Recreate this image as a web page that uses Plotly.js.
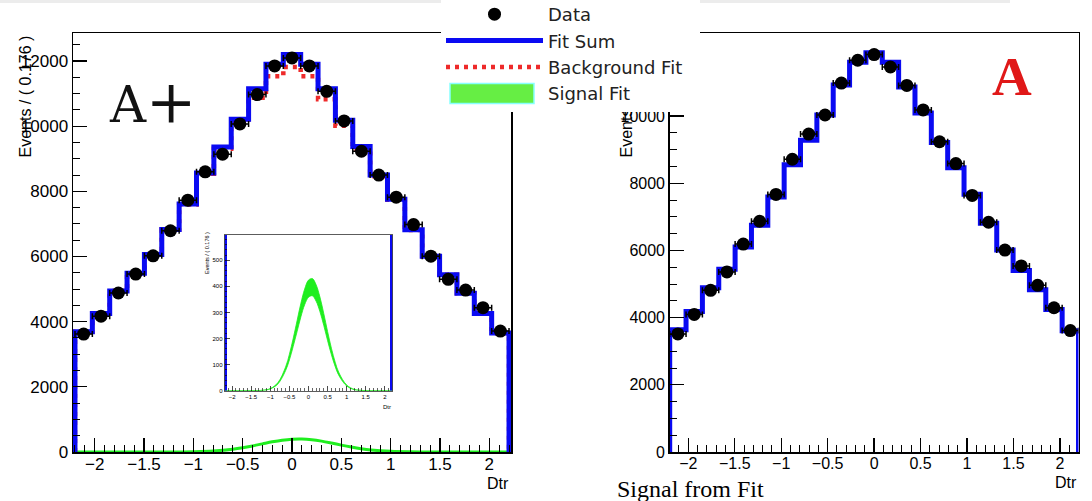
<!DOCTYPE html>
<html><head><meta charset="utf-8">
<script src="https://cdn.plot.ly/plotly-3.0.1.min.js"></script>
<style>html,body{margin:0;padding:0;background:#fff}#chart{width:1092px;height:501px}</style>
</head><body><div id="chart"></div>
<script>
// ---- data ----
const binEdges = [-2.2, -2.024, -1.848, -1.672, -1.496, -1.32, -1.144, -0.968, -0.792, -0.616, -0.44, -0.264, -0.088,
  0.088, 0.264, 0.44, 0.616, 0.792, 0.968, 1.144, 1.32, 1.496, 1.672, 1.848, 2.024, 2.2];
const binCenters = [-2.112, -1.936, -1.76, -1.584, -1.408, -1.232, -1.056, -0.88, -0.704, -0.528, -0.352, -0.176, 0,
  0.176, 0.352, 0.528, 0.704, 0.88, 1.056, 1.232, 1.408, 1.584, 1.76, 1.936, 2.112];

const dataLeft   = [3620, 4170, 4880, 5460, 6020, 6790, 7730, 8600, 9140, 10070, 10970, 11850, 12095,
  11850, 11070, 10160, 9230, 8500, 7820, 6980, 6010, 5300, 4970, 4430, 3710];
const fitSumLeft = [3690, 4250, 4940, 5490, 6060, 6830, 7610, 8560, 9360, 10210, 11150, 11900, 12200,
  11900, 11150, 10180, 9380, 8500, 7760, 6820, 6010, 5440, 4870, 4250, 3650];
const bkgLeft    = [3690, 4250, 4940, 5490, 6060, 6830, 7600, 8540, 9310, 10100, 10870, 11530, 11820,
  11530, 10830, 10010, 9290, 8460, 7745, 6815, 6005, 5440, 4870, 4250, 3650];

const dataRight   = [3515, 4093, 4811, 5359, 6189, 6868, 7665, 8713, 9461, 10030, 10979, 11659, 11828,
  11458, 10910, 10180, 9234, 8584, 7635, 6838, 6009, 5539, 4961, 4293, 3614];
const fitSumRight = [3640, 4180, 4890, 5440, 6100, 6750, 7590, 8550, 9280, 10030, 10920, 11600, 11880,
  11600, 10860, 10090, 9210, 8460, 7670, 6810, 6010, 5400, 4830, 4240, 3610];

const sigX     = [-2.2, -1.8, -1.6, -1.4, -1.2, -1.0, -0.8, -0.6, -0.5, -0.4, -0.3, -0.2, -0.1, 0, 0.1, 0.2,
  0.3, 0.4, 0.5, 0.6, 0.7, 0.8, 1.0, 1.2, 1.4, 1.6, 1.8, 2.2];
const sigUpper = [0, 0, 0.1, 0.3, 1.6, 8, 31, 91, 140, 201, 268, 335, 390, 424, 430, 406,
  359, 296, 227, 163, 109, 68, 22, 5, 1, 0.1, 0, 0];
const sigLower = [0, 0, 0.1, 0.3, 1.4, 7, 26, 77, 118, 170, 226, 283, 330, 358, 364, 343,
  303, 250, 192, 138, 92, 57, 18, 4, 1, 0.1, 0, 0];
const sigMain  = [0, 0, 0.1, 0.3, 1.5, 7.5, 29, 85, 130, 187, 250, 312, 363, 394, 400, 378,
  334, 275, 211, 152, 101, 63, 20, 5, 1, 0.1, 0, 0];

const halfBin = 0.088;

// ---- helpers to build step outlines from the bin arrays ----
function stepX() { return [binEdges[0]].concat(binEdges, [binEdges[binEdges.length - 1]]); }
function stepY(v) { return [0].concat(v, [v[v.length - 1], 0]); }

const BLUE = '#0a0af2', RED = '#ee2a2a', GREEN = '#1fee1f';
const SANS = 'Liberation Sans, Arial, Helvetica, sans-serif';
const LEGSANS = 'DejaVu Sans, Verdana, sans-serif';
const SERIF = 'Liberation Serif, Times New Roman, serif';
const DSERIF = 'DejaVu Serif, Georgia, serif';

const traces = [
  {x: sigX, y: sigMain, xaxis: 'x', yaxis: 'y', mode: 'lines', line: {color: GREEN, width: 3, shape: 'spline'},
   showlegend: false, hoverinfo: 'skip'},
  {x: stepX(), y: stepY(bkgLeft), xaxis: 'x', yaxis: 'y', mode: 'lines', name: 'Background Fit',
   line: {color: RED, width: 4.5, shape: 'hv', dash: '4px,5px'}, legendrank: 3},
  {x: stepX(), y: stepY(fitSumLeft), xaxis: 'x', yaxis: 'y', mode: 'lines', name: 'Fit Sum',
   line: {color: BLUE, width: 5, shape: 'hv'}, legendrank: 2},
  {x: binCenters, y: dataLeft, xaxis: 'x', yaxis: 'y', mode: 'markers', name: 'Data',
   marker: {color: '#000', size: 13},
   error_x: {type: 'constant', value: halfBin, color: '#000', thickness: 1.5, width: 3},
   error_y: {type: 'sqrt', color: '#000', thickness: 1.5, width: 4}, legendrank: 1},
  // inset
  {x: sigX, y: sigLower, xaxis: 'x2', yaxis: 'y2', mode: 'lines', line: {color: GREEN, width: 0.8, shape: 'spline'},
   showlegend: false, hoverinfo: 'skip'},
  {x: sigX, y: sigUpper, xaxis: 'x2', yaxis: 'y2', mode: 'lines', fill: 'tonexty', fillcolor: GREEN, name: 'Signal Fit',
   line: {color: GREEN, width: 0.8, shape: 'spline'}, legendrank: 4},
  {x: stepX(), y: stepY(fitSumLeft), xaxis: 'x2', yaxis: 'y2', mode: 'lines', line: {color: BLUE, width: 5, shape: 'hv'},
   showlegend: false, hoverinfo: 'skip'},
  // right panel
  {x: stepX(), y: stepY(fitSumRight), xaxis: 'x3', yaxis: 'y3', mode: 'lines', line: {color: BLUE, width: 5, shape: 'hv'},
   showlegend: false},
  {x: binCenters, y: dataRight, xaxis: 'x3', yaxis: 'y3', mode: 'markers', marker: {color: '#000', size: 13},
   error_x: {type: 'constant', value: halfBin, color: '#000', thickness: 1.5, width: 3},
   error_y: {type: 'sqrt', color: '#000', thickness: 1.5, width: 4}, showlegend: false}
];

function mainAxis(extra) {
  return Object.assign({
    showline: true, linecolor: '#000', linewidth: 1.5, mirror: true,
    ticks: 'inside', ticklen: 14, tickwidth: 1.3, tickcolor: '#000',
    showgrid: false, zeroline: false,
    tickfont: {family: SANS, size: 17, color: '#000'}
  }, extra);
}
function insetAxis(extra) {
  return Object.assign({
    showline: true, linecolor: '#333', linewidth: 0.8, mirror: true,
    ticks: 'inside', ticklen: 5, tickwidth: 0.7, tickcolor: '#000',
    showgrid: false, zeroline: false,
    tickfont: {family: SANS, size: 6, color: '#000'}
  }, extra);
}

const W = 1092, T = 33, B = 49, H = 501;
const px = v => v / W;
const py = v => (H - B - v) / (H - T - B);

const layout = {
  width: W, height: H,
  margin: {l: 0, r: 0, t: T, b: B, pad: 0},
  paper_bgcolor: '#fff', plot_bgcolor: '#fff',
  showlegend: true,
  legend: {x: px(441), y: py(0), xanchor: 'left', yanchor: 'top', bgcolor: '#fff', borderwidth: 0,
    font: {family: LEGSANS, size: 18, color: '#222'}, itemwidth: 97, tracegroupgap: 0, traceorder: 'normal'},
  xaxis: mainAxis({domain: [px(73), px(511)], range: [-2.22, 2.22], anchor: 'y', dtick: 0.5, tick0: 0,
    ticklabelstandoff: -4,
    minor: {dtick: 0.1, ticks: 'inside', ticklen: 7, tickwidth: 1, tickcolor: '#000'}}),
  yaxis: mainAxis({domain: [0, 1], range: [0, 12860], anchor: 'x', dtick: 2000, tick0: 0, tickformat: 'd',
    minor: {dtick: 500, ticks: 'inside', ticklen: 7, tickwidth: 1, tickcolor: '#000'}}),
  xaxis2: insetAxis({domain: [px(224.5), px(392.5)], range: [-2.2, 2.2], anchor: 'y2', dtick: 0.5, tick0: 0,
    minor: {dtick: 0.1, ticks: 'inside', ticklen: 2.5, tickwidth: 0.6, tickcolor: '#000'}}),
  yaxis2: insetAxis({domain: [py(390.7), py(235)], range: [0, 597], anchor: 'x2', dtick: 100, tick0: 0,
    minor: {dtick: 20, ticks: 'inside', ticklen: 2.5, tickwidth: 0.6, tickcolor: '#000'}}),
  xaxis3: mainAxis({domain: [px(669.7), px(1078.5)], range: [-2.2, 2.2], anchor: 'y3', dtick: 0.5, tick0: 0,
    ticklabelstandoff: -4,
    tickfont: {family: SANS, size: 16, color: '#000'},
    minor: {dtick: 0.1, ticks: 'inside', ticklen: 7, tickwidth: 1, tickcolor: '#000'}}),
  yaxis3: mainAxis({domain: [0, 1], range: [0, 12470], anchor: 'x3', dtick: 2000, tick0: 0, tickformat: 'd',
    tickfont: {family: SANS, size: 16, color: '#000'},
    minor: {dtick: 500, ticks: 'inside', ticklen: 7, tickwidth: 1, tickcolor: '#000'}}),
  shapes: [
    {type: 'rect', xref: 'paper', yref: 'paper', x0: 0, x1: px(1010), y0: py(3), y1: py(0),
     fillcolor: '#ececec', line: {width: 0}, layer: 'below'}
  ],
  annotations: [
    {text: 'Events / ( 0.176 )', xref: 'paper', yref: 'paper', x: px(25), y: py(96.5), textangle: -90,
     xanchor: 'center', yanchor: 'middle', showarrow: false, font: {family: SANS, size: 16, color: '#000'}},
    {text: 'Events / ( 0.176 )', xref: 'paper', yref: 'paper', x: px(626), y: py(96.5), textangle: -90,
     xanchor: 'center', yanchor: 'middle', showarrow: false, font: {family: SANS, size: 16, color: '#000'}},
    {text: 'Dtr', xref: 'paper', yref: 'paper', x: px(498), y: py(483), xanchor: 'center', yanchor: 'middle',
     showarrow: false, font: {family: SANS, size: 16, color: '#000'}},
    {text: 'Dtr', xref: 'paper', yref: 'paper', x: px(1066), y: py(482), xanchor: 'center', yanchor: 'middle',
     showarrow: false, font: {family: SANS, size: 16, color: '#000'}},
    {text: 'Dtr', xref: 'paper', yref: 'paper', x: px(387), y: py(407), xanchor: 'center', yanchor: 'middle',
     showarrow: false, font: {family: SANS, size: 6, color: '#000'}},
    {text: 'Events / ( 0.176 )', xref: 'paper', yref: 'paper', x: px(207), y: py(253), textangle: -90,
     xanchor: 'center', yanchor: 'middle', showarrow: false, font: {family: SANS, size: 5.5, color: '#000'}},
    {text: 'A<span style="font-size:60px">+</span>', xref: 'paper', yref: 'paper', x: px(152), y: py(101),
     xanchor: 'center', yanchor: 'middle',
     showarrow: false, font: {family: DSERIF, size: 50, color: '#121212'}},
    {text: '<b>A</b>', xref: 'paper', yref: 'paper', x: px(1012), y: py(77), xanchor: 'center', yanchor: 'middle',
     showarrow: false, font: {family: SERIF, size: 55, color: '#e01818'}},
    {text: 'Signal from Fit', xref: 'paper', yref: 'paper', x: px(615), y: py(489), xanchor: 'left', yanchor: 'middle',
     showarrow: false, font: {family: SERIF, size: 24, color: '#000'}}
  ]
};

Plotly.newPlot('chart', traces, layout, {displayModeBar: false, staticPlot: true}).then(function (gd) {
  // ROOT draws its legend box on top of everything: raise the legend above the annotation layer
  var info = gd._fullLayout._infolayer.node();
  var leg = info.querySelector('g.legend');
  if (leg) {
    info.appendChild(leg);
    var tr = leg.getAttribute('transform') || '';
    var m = tr.match(/translate\(\s*([-\d.e]+)[ ,]+([-\d.e]+)\s*\)/);
    if (m) leg.setAttribute('transform', 'translate(' + m[1] + ',' + (parseFloat(m[2]) - 4) + ')');
    var bg = leg.querySelector('rect.bg');
    if (bg) bg.setAttribute('width', parseFloat(bg.getAttribute('width')) + 12);
    // ROOT-style filled swatch for the signal band
    leg.querySelectorAll('g.traces').forEach(function (g) {
      var t = g.querySelector('text.legendtext');
      if (t && t.textContent === 'Signal Fit') {
        var f = g.querySelector('g.legendfill path');
        if (f) {
          f.setAttribute('d', 'M9,-10h84v20h-84z');
          f.style.fill = '#66ee44'; f.style.fillOpacity = 1;
          f.style.stroke = '#88ffff'; f.style.strokeWidth = '1.5px';
        }
        g.querySelectorAll('g.legendlines path').forEach(function (p) { p.style.display = 'none'; });
      }
    });
  }
});
</script></body></html>
